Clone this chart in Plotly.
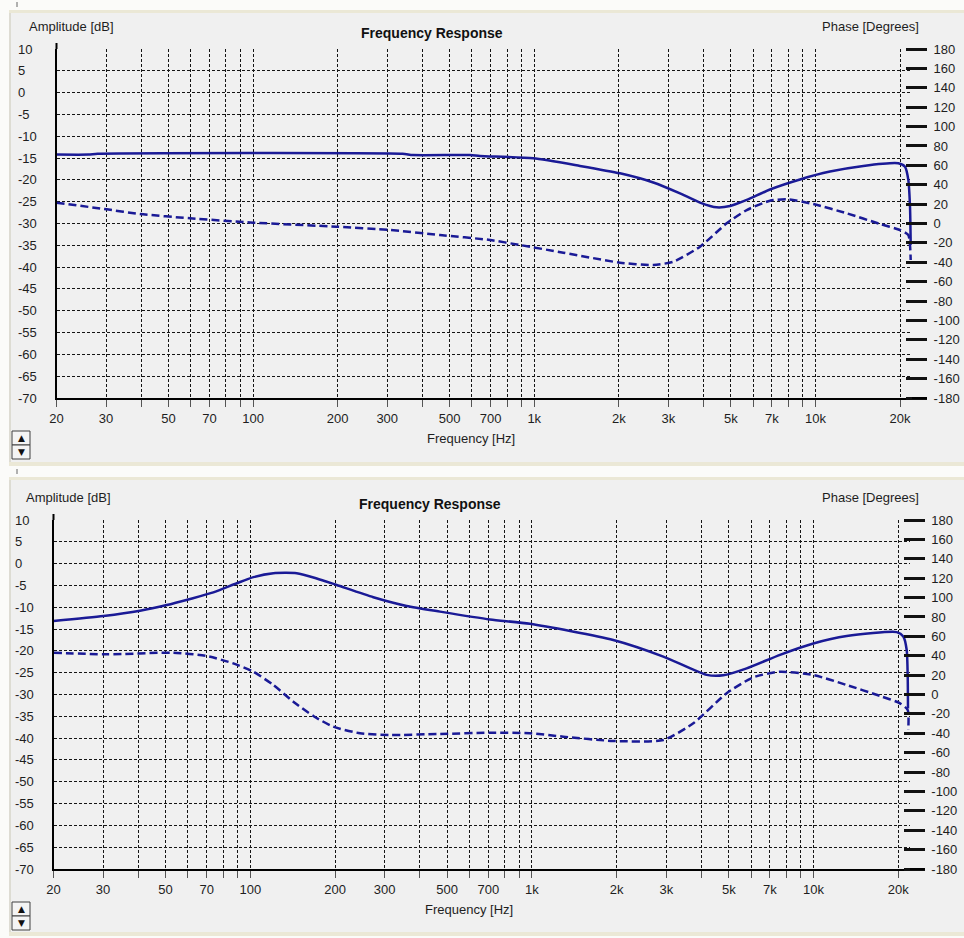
import math
import plotly.graph_objects as go

# ---------------- data ----------------
top_amp_freq = [20, 26, 28, 340, 370, 590, 641, 992, 1454, 2018, 2651, 3299, 3886, 4454, 4969,
                5696, 6892, 8811, 11264, 14798, 19708, 20818, 21390, 21688, 21814]
top_amp_db = [-14.2, -14.2, -14.0, -14.0, -14.3, -14.3, -14.5, -15.05, -16.8, -18.5, -20.6, -23.1,
              -25.2, -26.3, -26.0, -24.6, -22.2, -19.9, -18.1, -16.8, -16.2, -17.0, -20.0, -26.1, -34.9]

top_phase_freq = [20, 30.2, 39.6, 59.7, 100, 198, 307, 462, 696, 890, 1269, 2018, 2651, 3122, 3886,
                  4836, 5696, 6892, 7902, 9824, 12916, 16966, 19978, 21390, 21688, 21814]
top_phase_deg = [21.5, 14.6, 9.8, 5.4, 0.9, -3.3, -6.7, -11.9, -17.0, -22.2, -30.1, -40.4, -42.8,
                 -39.4, -23.9, 0.2, 13.9, 23.5, 25.0, 20.1, 10.5, -0.5, -6.7, -11.9, -22.2, -37.6]

bot_amp_freq = [20, 30.1, 40.6, 50.5, 61.1, 73.9, 89.5, 102.5, 120.7, 146.1, 172.1, 202.6, 273.4,
                359.1, 471.6, 709.8, 984, 1944, 2928, 4174, 4782, 5788, 7604, 9984, 13118, 19738,
                20836, 21420, 21600, 21650]
bot_amp_db = [-13.15, -12.0, -10.8, -9.5, -8.1, -6.6, -4.5, -3.1, -2.2, -2.2, -3.4, -4.9, -7.7,
              -9.7, -11.0, -12.8, -13.8, -17.5, -21.3, -25.5, -25.6, -24.0, -20.9, -18.3, -16.6,
              -15.7, -16.7, -19.8, -25.9, -33.2]

bot_phase_freq = [20, 30.9, 53.3, 70.0, 87.0, 102.5, 120.7, 142.1, 167.4, 197.1, 245.2, 313.3, 471.6,
                  709.8, 984, 1292, 1944, 2928, 3742, 4916, 6110, 7604, 9984, 13118, 17220, 20280,
                  21600, 21700]
bot_phase_deg = [43.1, 41.4, 43.1, 39.7, 32.1, 23.5, 9.8, -7.4, -22.2, -33.2, -40.0, -41.8, -40.7,
                 -39.4, -40.0, -43.5, -47.9, -46.9, -29.7, 1.3, 17.7, 23.5, 20.1, 9.8, -1.5, -9.1,
                 -16.0, -36.6]

grid_freqs = [20, 30, 40, 50, 60, 70, 80, 90, 100, 200, 300, 400, 500, 600, 700, 800, 900,
              1000, 2000, 3000, 4000, 5000, 6000, 7000, 8000, 9000, 10000, 20000]
labeled = {20: "20", 30: "30", 50: "50", 70: "70", 100: "100", 200: "200", 300: "300",
           500: "500", 700: "700", 1000: "1k", 2000: "2k", 3000: "3k", 5000: "5k",
           7000: "7k", 10000: "10k", 20000: "20k"}
grid_text = [labeled.get(f, "") for f in grid_freqs]

amp_ticks = list(range(10, -75, -5))
phase_ticks = list(range(180, -200, -20))

# ---------------- styling ----------------
W, H = 964, 938
LINE = "#1a1a96"
TXT = "#1e1e1e"
FONT = "Liberation Sans"
GRIDC = "#151515"
DASH = "3px,2px"

def px_x(px):
    return px / W

def px_y(py):
    return 1 - py / H

fig = go.Figure()

panels = [
    dict(left=56.5, right=912, top=49, bottom=398, paxis=905, f20k=900.1),
    dict(left=53.5, right=910, top=520, bottom=869, paxis=902.7, f20k=898.3),
]

data = [
    (top_amp_freq, top_amp_db, top_phase_freq, top_phase_deg),
    (bot_amp_freq, bot_amp_db, bot_phase_freq, bot_phase_deg),
]

layout = {}
shapes = []
annotations = []

# window background shapes
for (y0, y1) in [(10, 466), (477, 936)]:
    shapes.append(dict(type="rect", xref="paper", yref="paper", x0=px_x(9), x1=1.0,
                       y0=px_y(y1), y1=px_y(y0), fillcolor="#ebe8d6", line=dict(width=0), layer="below"))
    shapes.append(dict(type="rect", xref="paper", yref="paper", x0=px_x(11), x1=1.0,
                       y0=px_y(y1 - 4), y1=px_y(y0 + 3), fillcolor="#f0f0f0", line=dict(width=0), layer="below"))
    shapes.append(dict(type="line", xref="paper", yref="paper", x0=px_x(10), x1=px_x(10),
                       y0=px_y(y1 - 4), y1=px_y(y0 + 3), line=dict(color="#d0d0d0", width=1), layer="below"))
    shapes.append(dict(type="line", xref="paper", yref="paper", x0=px_x(17), x1=px_x(17),
                       y0=px_y(y0 - 8), y1=px_y(y0 - 3), line=dict(color="#666", width=1), layer="below"))

for i, (p, d) in enumerate(zip(panels, data)):
    xa = "xaxis" if i == 0 else "xaxis2"
    xs = "x" if i == 0 else "x2"
    ya_amp = "yaxis" if i == 0 else "yaxis3"
    ys_amp = "y" if i == 0 else "y3"
    ya_ph = "yaxis2" if i == 0 else "yaxis4"
    ys_ph = "y2" if i == 0 else "y4"

    ppd = (p["f20k"] - p["left"]) / 3.0
    xmin = math.log10(20)
    xmax = xmin + (p["right"] - p["left"]) / ppd

    layout[xa] = dict(
        domain=[px_x(p["left"]), px_x(p["right"])], anchor=ys_amp, type="log",
        range=[xmin, xmax], tickvals=grid_freqs, ticktext=grid_text,
        showgrid=True, gridcolor=GRIDC, gridwidth=1, griddash=DASH,
        showline=True, linecolor="black", linewidth=2, mirror=False,
        ticks="outside", ticklen=7, tickcolor="#555", tickwidth=1,
        tickfont=dict(family=FONT, size=13, color=TXT), zeroline=False, automargin=False,
    )
    layout[ya_amp] = dict(
        domain=[px_y(p["bottom"]), px_y(p["top"])], anchor=xs, range=[-70, 10],
        tickvals=amp_ticks, showticklabels=False, showgrid=True, gridcolor=GRIDC,
        gridwidth=1, griddash=DASH, showline=True, linecolor="black", linewidth=2,
        zeroline=False, ticks="", automargin=False,
    )
    layout[ya_ph] = dict(
        overlaying=ys_amp, side="right", anchor="free", position=px_x(p["paxis"]),
        range=[-180, 180], tickvals=phase_ticks, ticktext=[str(t) for t in phase_ticks],
        ticks="outside", ticklen=21, tickwidth=3, tickcolor="#111",
        showgrid=False, zeroline=False, showline=False, ticklabelstandoff=4,
        tickfont=dict(family=FONT, size=13, color=TXT), automargin=False,
    )

    fa, da, fp, dp = d
    fig.add_trace(go.Scatter(x=fa, y=da, xaxis=xs, yaxis=ys_amp, mode="lines",
                             line=dict(color=LINE, width=2.5, shape="spline", smoothing=0.6),
                             name="Amplitude", showlegend=False, hoverinfo="skip"))
    fig.add_trace(go.Scatter(x=fp, y=dp, xaxis=xs, yaxis=ys_ph, mode="lines",
                             line=dict(color=LINE, width=2.5, dash="8px,4px", shape="spline", smoothing=0.6),
                             name="Phase", showlegend=False, hoverinfo="skip"))

    for t in amp_ticks:
        annotations.append(dict(xref="paper", yref=ys_amp, x=px_x(p["left"] - 41), y=t,
                                text=str(t), showarrow=False, xanchor="left", yanchor="middle",
                                font=dict(family=FONT, size=13, color=TXT)))

    shapes.append(dict(type="line", xref="paper", yref="paper",
                       x0=px_x(p["right"]), x1=px_x(p["paxis"] + 22),
                       y0=px_y(p["bottom"]), y1=px_y(p["bottom"]),
                       line=dict(color="black", width=2)))
    shapes.append(dict(type="line", xref="paper", yref="paper",
                       x0=px_x(p["left"]), x1=px_x(p["left"]),
                       y0=px_y(p["top"]), y1=px_y(p["top"] - 6),
                       line=dict(color="black", width=2)))

    top = p["top"]
    annotations.append(dict(xref="paper", yref="paper", x=px_x(p["left"] - 30), y=px_y(top - 23),
                            text="Amplitude [dB]", showarrow=False, xanchor="left", yanchor="middle",
                            font=dict(family=FONT, size=13, color=TXT)))
    annotations.append(dict(xref="paper", yref="paper", x=px_x(921), y=px_y(top - 23),
                            text="Phase [Degrees]", showarrow=False, xanchor="right", yanchor="middle",
                            font=dict(family=FONT, size=13, color=TXT)))
    annotations.append(dict(xref="paper", yref="paper", x=px_x(432 - 2 * i), y=px_y(top - 16),
                            text="<b>Frequency Response</b>", showarrow=False, xanchor="center",
                            yanchor="middle", font=dict(family=FONT, size=14, color="#111")))
    annotations.append(dict(xref="paper", yref="paper", x=px_x(471 - 2 * i), y=px_y(p["bottom"] + 40),
                            text="Frequency [Hz]", showarrow=False, xanchor="center", yanchor="middle",
                            font=dict(family=FONT, size=13, color=TXT)))

    by0 = p["bottom"] + 33
    for k, sym in enumerate(["▲", "▼"]):
        yy0 = by0 + k * 14
        shapes.append(dict(type="rect", xref="paper", yref="paper", x0=px_x(12), x1=px_x(30),
                           y0=px_y(yy0 + 14), y1=px_y(yy0), fillcolor="#f4f4f4",
                           line=dict(color="#404040", width=1)))
        annotations.append(dict(xref="paper", yref="paper", x=px_x(21), y=px_y(yy0 + 7),
                                text=sym, showarrow=False, xanchor="center", yanchor="middle",
                                font=dict(family="DejaVu Sans", size=9, color="#111")))

fig.update_layout(
    width=W, height=H, margin=dict(l=0, r=0, t=0, b=0, pad=0, autoexpand=False),
    paper_bgcolor="#fbfbf9", plot_bgcolor="rgba(0,0,0,0)",
    showlegend=False, shapes=shapes, annotations=annotations,
    font=dict(family=FONT, size=13, color=TXT),
    **layout,
)

fig.write_html(
    "out.html",
    post_script="document.body.style.margin='0';document.documentElement.style.margin='0';",
)
